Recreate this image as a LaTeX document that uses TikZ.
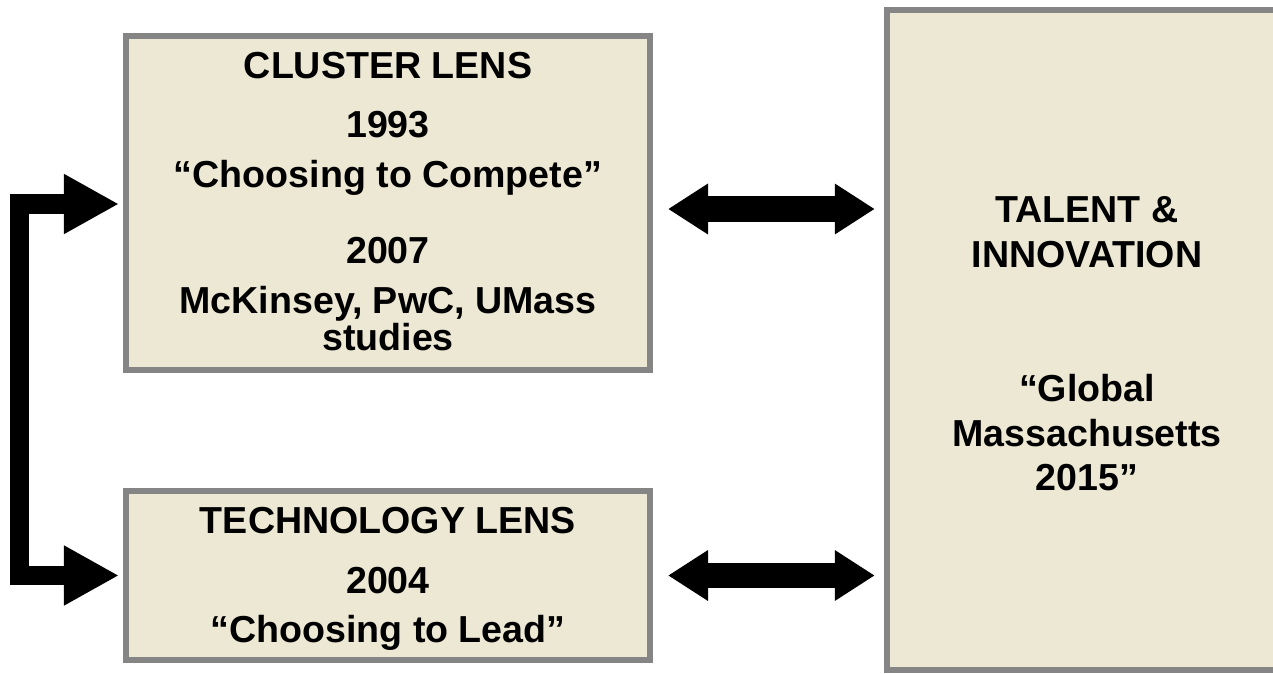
\documentclass[tikz,border=0pt]{standalone}
\usepackage{fontspec}
\setmainfont{Liberation Sans}
\usepackage{tikz}
\usetikzlibrary{arrows.meta}

\definecolor{boxfill}{RGB}{237,232,212}
\definecolor{boxline}{RGB}{133,133,133}

\begin{document}
\begin{tikzpicture}[x=1bp, y=-1bp, line join=miter]
    \tikzstyle{lens}=[rectangle, draw=boxline, fill=boxfill, line width=6bp, inner sep=0pt]
    \tikzstyle{txt}=[anchor=base, inner sep=0pt, font=\fontsize{37.6bp}{40bp}\selectfont\bfseries]
    \tikzstyle{brk}=[line width=19bp, {Triangle[length=55bp,width=56bp]}-{Triangle[length=55bp,width=56bp]}]
    \tikzstyle{dbl}=[line width=25bp, {Triangle[length=40bp,width=48bp]}-{Triangle[length=40bp,width=48bp]}]

    \useasboundingbox (0,0) rectangle (1273,674);
    \clip (0,0) rectangle (1273,674);

    % boxes
    \node[lens, minimum width=524bp, minimum height=334bp] (clus) at (388,203) {};
    \node[lens, minimum width=524bp, minimum height=169bp] (tech) at (388,575.5) {};
    \node[fill=boxfill, inner sep=0pt, minimum width=413bp, minimum height=660bp] (tal) at (1093.5,340) {};
    \draw[boxline, line width=6bp] (tal.north east) -- (tal.north west) -- (tal.south west) -- (tal.south east);

    % texts
    \node[txt] (c1) at (388,79) {CLUSTER LENS};
    \node[txt] (c2) at (388,138) {1993};
    \node[txt] (c3) at (388,188) {“Choosing to Compete”};
    \node[txt] (c4) at (388,263) {2007};
    \node[txt] (c5) at (388,313) {McKinsey, PwC, UMass};
    \node[txt] (c6) at (388,350) {studies};

    \node[txt] (t1) at (388,533) {TECHNOLOGY LENS};
    \node[txt] (t2) at (388,593) {2004};
    \node[txt] (t3) at (388,642) {“Choosing to Lead”};

    \node[txt] (g1) at (1087,223) {TALENT \&};
    \node[txt] (g2) at (1087,267) {INNOVATION};
    \node[txt] (g3) at (1087,401) {“Global};
    \node[txt] (g4) at (1087,446) {Massachusetts};
    \node[txt] (g5) at (1087,490) {2015”};

    % arrows
    \draw[brk, shorten <=4bp, shorten >=4bp] ([yshift=-1bp]clus.west) -| ([xshift=-103.5bp]tech.west) -- (tech.west);
    \draw[dbl, shorten <=15bp, shorten >=12bp] ([yshift=-6bp]clus.east) -- ([yshift=-6bp]clus.east -| tal.west);
    \draw[dbl, shorten <=15bp, shorten >=12bp] (tech.east) -- (tech.east -| tal.west);

\end{tikzpicture}
\end{document}
